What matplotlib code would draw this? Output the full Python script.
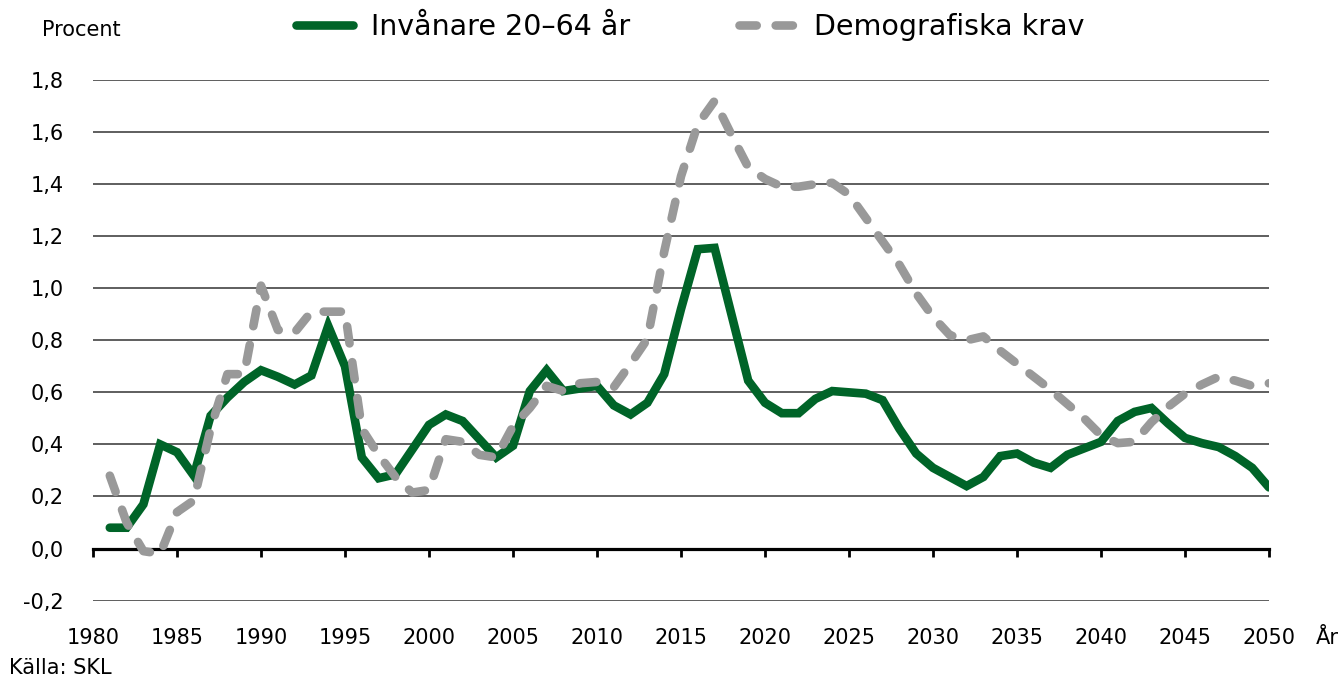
import matplotlib
matplotlib.use("Agg")
import matplotlib.pyplot as plt
import numpy as np
from matplotlib.ticker import FuncFormatter

plt.rcParams['font.family'] = ['DejaVu Sans']

years = list(range(1981, 2051))

invanare = [0.08, 0.08, 0.17, 0.40, 0.37, 0.28, 0.51, 0.58, 0.64, 0.685,
            0.66, 0.63, 0.665, 0.855, 0.70, 0.35, 0.27, 0.285, 0.38, 0.475,
            0.515, 0.49, 0.42, 0.35, 0.395, 0.605, 0.685, 0.605, 0.615, 0.625,
            0.55, 0.515, 0.56, 0.67, 0.92, 1.15, 1.155, 0.90, 0.645, 0.56,
            0.52, 0.52, 0.575, 0.605, 0.60, 0.595, 0.57, 0.46, 0.365, 0.31,
            0.275, 0.24, 0.275, 0.355, 0.365, 0.33, 0.31, 0.36, 0.385, 0.41,
            0.49, 0.525, 0.54, 0.48, 0.425, 0.405, 0.39, 0.355, 0.31, 0.235]

demografiska = [0.28, 0.10, -0.01, -0.02, 0.14, 0.185, 0.46, 0.67, 0.67, 1.01,
                0.84, 0.83, 0.91, 0.91, 0.91, 0.46, 0.36, 0.275, 0.215, 0.225,
                0.42, 0.41, 0.36, 0.35, 0.47, 0.54, 0.625, 0.605, 0.635, 0.64,
                0.62, 0.71, 0.805, 1.14, 1.43, 1.63, 1.72, 1.59, 1.465, 1.42,
                1.39, 1.39, 1.40, 1.405, 1.36, 1.27, 1.18, 1.09, 0.98, 0.89,
                0.82, 0.80, 0.815, 0.76, 0.71, 0.66, 0.61, 0.555, 0.50, 0.435,
                0.405, 0.41, 0.485, 0.545, 0.595, 0.63, 0.66, 0.645, 0.625, 0.635]

y_ticks = [-0.2, 0.0, 0.2, 0.4, 0.6, 0.8, 1.0, 1.2, 1.4, 1.6, 1.8]
x_ticks = list(range(1980, 2051, 5))

fig = plt.figure(figsize=(13.44, 6.78), dpi=100)
ax = fig.add_axes([93 / 1344, 1 - 600.6 / 678, (1269 - 93) / 1344, (600.6 - 80) / 678])

# grid lines (zero line is drawn as the axis)
for v in y_ticks:
    if v != 0.0:
        ax.axhline(v, color='#333333', lw=1.1, zorder=1)

green, = ax.plot(years, invanare, color='#006428', lw=6.2,
                 solid_capstyle='round', solid_joinstyle='miter', zorder=3,
                 label='Invånare 20–64 år')
gray, = ax.plot(years, demografiska, color='#999999', lw=6.2,
                dashes=(2.0, 2.2), dash_capstyle='round', zorder=4,
                label='Demografiska krav')

ax.set_xlim(1980, 2050)
ax.set_ylim(-0.2, 1.8)

for s in ['top', 'right', 'left']:
    ax.spines[s].set_visible(False)
ax.spines['bottom'].set_position(('data', 0))
ax.spines['bottom'].set_linewidth(2.3)
ax.spines['bottom'].set_zorder(2)

ax.set_xticks(x_ticks)
ax.set_yticks(y_ticks)
ax.yaxis.set_major_formatter(FuncFormatter(lambda v, p: ('%.1f' % v).replace('.', ',')))
ax.tick_params(axis='x', direction='out', length=6, width=2, pad=51, labelsize=15)
ax.tick_params(axis='y', length=0, pad=21, labelsize=15)

fig.text(42 / 1344, 1 - 30 / 678, 'Procent', fontsize=15, va='center', ha='left')
fig.text(1316 / 1344, 1 - 638 / 678, 'År', fontsize=15, va='center', ha='left')
fig.text(9 / 1344, 1 - 668 / 678, 'Källa: SKL', fontsize=15, va='center', ha='left')

fig.legend(handles=[green, gray], loc='center left', bbox_to_anchor=(270 / 1344, 1 - 27 / 678),
           ncol=2, frameon=False, fontsize=20.5, handlelength=2.0, handletextpad=0.65,
           columnspacing=3.8)

fig.savefig('out.png', dpi=100)
